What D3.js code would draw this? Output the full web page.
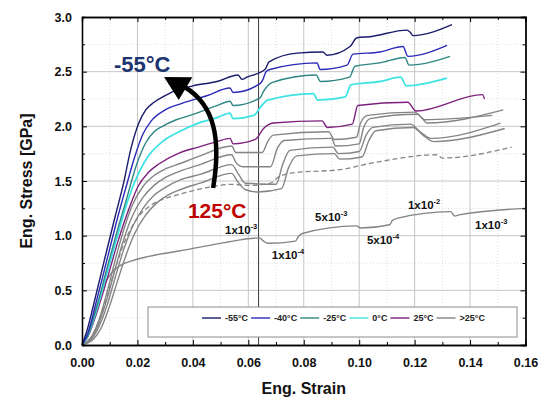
<!DOCTYPE html>
<html>
<head>
<meta charset="utf-8">
<script src="https://cdn.jsdelivr.net/npm/d3@7"></script>
<style>
  body { margin: 0; background: #fff; }
  svg { display: block; font-family: Arial, "Liberation Sans", sans-serif; }
</style>
</head>
<body>
<svg width="550" height="397"></svg>
<script>
// ticks
var strainTicks = [0, 0.02, 0.04, 0.06, 0.08, 0.10, 0.12, 0.14, 0.16];
var strainMinor = [0.01, 0.03, 0.05, 0.07, 0.09, 0.11, 0.13, 0.15];
var stressTicks = [0, 0.5, 1.0, 1.5, 2.0, 2.5, 3.0];
var stressMinor = [0.25, 0.75, 1.25, 1.75, 2.25, 2.75];

// curves [strain, stress GPa]
var curveN55 = [[0,0],[0.002,0.15],[0.004,0.35],[0.008,0.77],[0.012,1.18],[0.015,1.48],[0.0175,1.78],[0.0205,2.03],[0.023,2.15],[0.026,2.22],[0.03,2.28],[0.033,2.32],[0.04,2.37],[0.0487,2.41],[0.0563,2.47],[0.0577,2.43],[0.0595,2.45],[0.066,2.52],[0.0675,2.59],[0.0776,2.67],[0.0869,2.68],[0.0884,2.65],[0.0967,2.73],[0.0992,2.81],[0.1039,2.82],[0.1172,2.88],[0.1184,2.86],[0.1194,2.83],[0.1335,2.93]];
var curveN40 = [[0,0],[0.002,0.1],[0.005,0.38],[0.009,0.78],[0.013,1.18],[0.0165,1.5],[0.019,1.72],[0.022,1.93],[0.025,2.05],[0.03,2.15],[0.036,2.21],[0.045,2.28],[0.0534,2.35],[0.0545,2.31],[0.0642,2.39],[0.0653,2.43],[0.0664,2.5],[0.0678,2.52],[0.0848,2.58],[0.0859,2.52],[0.0956,2.56],[0.0978,2.66],[0.1075,2.68],[0.1158,2.73],[0.1176,2.64],[0.1317,2.74]];
var curveN25 = [[0,0],[0.002,0.08],[0.005,0.32],[0.009,0.7],[0.013,1.07],[0.016,1.33],[0.0197,1.65],[0.023,1.85],[0.026,1.95],[0.029,2.0],[0.034,2.06],[0.039,2.1],[0.0487,2.19],[0.0534,2.23],[0.0545,2.19],[0.0642,2.26],[0.0655,2.32],[0.0685,2.4],[0.0845,2.47],[0.086,2.41],[0.0965,2.45],[0.0985,2.55],[0.1075,2.58],[0.1165,2.63],[0.118,2.56],[0.1328,2.64]];
var curve0 = [[0,0],[0.002,0.08],[0.005,0.3],[0.009,0.66],[0.013,1.02],[0.0165,1.32],[0.0202,1.56],[0.024,1.73],[0.029,1.86],[0.035,1.95],[0.042,2.03],[0.0487,2.08],[0.0534,2.12],[0.0545,2.07],[0.062,2.1],[0.0645,2.18],[0.067,2.24],[0.0835,2.3],[0.085,2.24],[0.095,2.27],[0.097,2.38],[0.1075,2.41],[0.115,2.45],[0.117,2.37],[0.1317,2.44]];
var curve25 = [[0,0],[0.002,0.07],[0.005,0.27],[0.009,0.6],[0.013,0.95],[0.017,1.25],[0.0202,1.45],[0.024,1.58],[0.028,1.66],[0.0354,1.76],[0.042,1.81],[0.0487,1.86],[0.0534,1.89],[0.0545,1.84],[0.0625,1.88],[0.0655,1.98],[0.069,2.03],[0.0866,2.05],[0.0885,1.99],[0.0975,2.02],[0.0995,2.19],[0.1175,2.22],[0.1205,2.14],[0.1445,2.29],[0.1452,2.25]];
var curveG1 = [[0,0],[0.003,0.06],[0.006,0.22],[0.009,0.48],[0.012,0.78],[0.015,1.05],[0.018,1.27],[0.022,1.45],[0.026,1.55],[0.03,1.61],[0.0354,1.66],[0.0426,1.73],[0.054,1.82],[0.0555,1.76],[0.065,1.76],[0.067,1.86],[0.069,1.92],[0.089,1.95],[0.091,1.88],[0.099,1.9],[0.1005,2.03],[0.103,2.1],[0.12,2.13],[0.1225,2.08],[0.1245,2.03],[0.152,2.15]];
var curveG2 = [[0,0],[0.003,0.05],[0.006,0.19],[0.009,0.42],[0.012,0.7],[0.015,0.96],[0.018,1.17],[0.022,1.35],[0.026,1.46],[0.03,1.53],[0.0354,1.59],[0.0426,1.65],[0.054,1.74],[0.0555,1.67],[0.058,1.63],[0.068,1.63],[0.0705,1.8],[0.073,1.87],[0.09,1.89],[0.0915,1.82],[0.1,1.84],[0.1015,1.98],[0.104,2.07],[0.121,2.11],[0.1235,2.06],[0.148,2.1]];
var curveG3 = [[0,0],[0.003,0.04],[0.006,0.16],[0.009,0.36],[0.012,0.62],[0.015,0.87],[0.018,1.07],[0.022,1.25],[0.026,1.37],[0.03,1.44],[0.0354,1.51],[0.0426,1.56],[0.054,1.65],[0.0565,1.56],[0.059,1.48],[0.07,1.47],[0.0725,1.66],[0.075,1.78],[0.0905,1.81],[0.0925,1.75],[0.1,1.77],[0.1025,1.92],[0.105,1.99],[0.1185,2.02],[0.122,1.95],[0.126,1.89],[0.151,2.03]];
var curveG4 = [[0,0],[0.004,0.05],[0.007,0.16],[0.01,0.36],[0.013,0.6],[0.016,0.83],[0.019,1.02],[0.023,1.19],[0.027,1.3],[0.031,1.37],[0.0354,1.42],[0.0426,1.48],[0.054,1.57],[0.056,1.5],[0.059,1.42],[0.0635,1.4],[0.072,1.43],[0.0745,1.62],[0.0775,1.73],[0.091,1.75],[0.093,1.7],[0.101,1.72],[0.1035,1.87],[0.106,1.96],[0.1195,1.99],[0.123,1.92],[0.127,1.86],[0.1525,1.98]];
var curveDash = [[0,0],[0.004,0.1],[0.008,0.36],[0.012,0.7],[0.016,0.98],[0.02,1.16],[0.025,1.28],[0.03,1.34],[0.0354,1.38],[0.045,1.44],[0.054,1.47],[0.06,1.46],[0.068,1.48],[0.0705,1.53],[0.075,1.57],[0.095,1.61],[0.1,1.64],[0.108,1.68],[0.128,1.74],[0.13,1.71],[0.155,1.81]];
var curve125 = [[0,0],[0.002,0.1],[0.005,0.33],[0.008,0.55],[0.011,0.67],[0.014,0.73],[0.018,0.77],[0.024,0.81],[0.035,0.86],[0.05,0.93],[0.064,0.98],[0.0655,0.95],[0.067,0.93],[0.077,0.95],[0.078,0.99],[0.0795,1.02],[0.099,1.09],[0.1005,1.07],[0.111,1.1],[0.112,1.14],[0.114,1.16],[0.133,1.22],[0.1345,1.18],[0.136,1.19],[0.16,1.25]];

var legendLabels = ["-55°C", "-40°C", "-25°C", "0°C", "25°C", ">25°C"];
var legendColors = ["#1b1b6b", "#2b2bb8", "#2e8683", "#3fe3e3", "#7d1f7d", "#858585"];

var rateBase = ["1x10", "1x10", "5x10", "5x10", "1x10", "1x10"];
var rateExp = ["-3", "-4", "-3", "-4", "-2", "-3"];
var ratePos = [[0.0516, 1.016], [0.0685, 0.787], [0.0841, 1.134], [0.1028, 0.924], [0.1176, 1.244], [0.1418, 1.061]];

var markStrain = 0.0637;

var svg = d3.select("svg"),
  margin = {top: 17, right: 24.5, bottom: 52, left: 82},
  width = +svg.attr("width") - margin.left - margin.right,
  height = +svg.attr("height") - margin.top - margin.bottom,
  g = svg.append("g").attr("transform", "translate(" + margin.left + "," + margin.top + ")");

var x = d3.scaleLinear().domain([0, 0.16]).range([0, width]);
var y = d3.scaleLinear().domain([0, 3]).range([height, 0]);

// grid
var grid = g.append("g");
grid.selectAll(".xminor").data(strainMinor).enter().append("line")
  .attr("x1", x).attr("x2", x).attr("y1", 0).attr("y2", height)
  .attr("stroke", "#d4d4d4").attr("stroke-width", 0.8).attr("stroke-dasharray", "1,2");
grid.selectAll(".yminor").data(stressMinor).enter().append("line")
  .attr("x1", 0).attr("x2", width).attr("y1", y).attr("y2", y)
  .attr("stroke", "#d4d4d4").attr("stroke-width", 0.8).attr("stroke-dasharray", "1,2");
grid.selectAll(".xmajor").data(strainTicks.slice(1, -1)).enter().append("line")
  .attr("x1", x).attr("x2", x).attr("y1", 0).attr("y2", height)
  .attr("stroke", "#c6c6c6").attr("stroke-width", 1);
grid.selectAll(".ymajor").data(stressTicks.slice(1, -1)).enter().append("line")
  .attr("x1", 0).attr("x2", width).attr("y1", y).attr("y2", y)
  .attr("stroke", "#c6c6c6").attr("stroke-width", 1);

// vertical marker
g.append("line")
  .attr("x1", x(markStrain)).attr("x2", x(markStrain))
  .attr("y1", 0).attr("y2", height)
  .attr("stroke", "#3a3a3a").attr("stroke-width", 1);

// curves
var line = d3.line()
  .x(function(d) { return x(d[0]); })
  .y(function(d) { return y(d[1]); })
  .curve(d3.curveMonotoneX);

var grayCurves = [curveG1, curveG2, curveG3, curveG4, curve125];
g.append("g").selectAll("path").data(grayCurves).enter().append("path")
  .attr("d", line).attr("fill", "none")
  .attr("stroke", "#858585").attr("stroke-width", 1.4);

g.append("path").attr("d", line(curveDash)).attr("fill", "none")
  .attr("stroke", "#858585").attr("stroke-width", 1.3).attr("stroke-dasharray", "5,3");

var colorCurves = [curve25, curve0, curveN25, curveN40, curveN55];
var colorOf = [legendColors[4], legendColors[3], legendColors[2], legendColors[1], legendColors[0]];
g.append("g").selectAll("path").data(colorCurves).enter().append("path")
  .attr("d", line).attr("fill", "none")
  .attr("stroke", function(d, i) { return colorOf[i]; })
  .attr("stroke-width", function(d, i) { return i == 1 ? 1.8 : 1.4; });

// axes
function styleAxis(sel) {
  sel.select(".domain").attr("stroke", "#000").attr("stroke-width", 1.3);
  sel.selectAll(".tick line").attr("stroke", "#000").attr("stroke-width", 1);
  sel.selectAll("text").attr("font-size", 12.5).attr("font-weight", "bold")
    .attr("font-family", "Arial, 'Liberation Sans', sans-serif").attr("fill", "#111");
}

g.append("g").attr("transform", "translate(0," + height + ")")
  .call(d3.axisBottom(x).tickValues(strainMinor).tickSize(-3).tickFormat(""))
  .call(styleAxis);
g.append("g").attr("transform", "translate(0," + height + ")")
  .call(d3.axisBottom(x).tickValues(strainTicks).tickSizeInner(-5).tickSizeOuter(0)
    .tickPadding(13).tickFormat(d3.format(".2f")))
  .call(styleAxis);
g.append("g")
  .call(d3.axisTop(x).tickValues(strainMinor).tickSize(-3).tickFormat(""))
  .call(styleAxis);
g.append("g")
  .call(d3.axisTop(x).tickValues(strainTicks).tickSize(-5).tickFormat(""))
  .call(styleAxis);
g.append("g")
  .call(d3.axisLeft(y).tickValues(stressMinor).tickSize(-3).tickFormat(""))
  .call(styleAxis);
g.append("g")
  .call(d3.axisLeft(y).tickValues(stressTicks).tickSizeInner(-5).tickSizeOuter(0)
    .tickPadding(10).tickFormat(d3.format(".1f")))
  .call(styleAxis);
g.append("g").attr("transform", "translate(" + width + ",0)")
  .call(d3.axisRight(y).tickValues(stressMinor).tickSize(-3).tickFormat(""))
  .call(styleAxis);
g.append("g").attr("transform", "translate(" + width + ",0)")
  .call(d3.axisRight(y).tickValues(stressTicks).tickSize(-5).tickFormat(""))
  .call(styleAxis);

// axis titles
svg.append("text")
  .attr("x", margin.left + width / 2).attr("y", 394)
  .attr("text-anchor", "middle").attr("font-size", 16).attr("font-weight", "bold")
  .attr("fill", "#111").text("Eng. Strain");
svg.append("text")
  .attr("transform", "translate(32," + (margin.top + height / 2) + ") rotate(-90)")
  .attr("text-anchor", "middle").attr("font-size", 16).attr("font-weight", "bold")
  .attr("fill", "#111").text("Eng. Stress [GPa]");

// strain rate labels
var rates = g.append("g").attr("font-size", 11.5).attr("font-weight", "bold").attr("fill", "#111");
rates.selectAll("text").data(rateBase).enter().append("text")
  .attr("x", function(d, i) { return x(ratePos[i][0]); })
  .attr("y", function(d, i) { return y(ratePos[i][1]); })
  .each(function(d, i) {
    var t = d3.select(this);
    t.append("tspan").text(d);
    t.append("tspan").attr("dy", -5).attr("font-size", 7.5).text(rateExp[i]);
  });

// temperature arrow
var arrowPath = d3.path();
arrowPath.moveTo(x(0.0473), y(1.436));
arrowPath.bezierCurveTo(x(0.0502), y(1.875), x(0.048), y(2.195), x(0.0370), y(2.36));
g.append("path").attr("d", arrowPath.toString())
  .attr("fill", "none").attr("stroke", "#000").attr("stroke-width", 4.5);
g.append("path")
  .attr("d", "M" + x(0.0296) + "," + y(2.452) + "L" + x(0.0398) + "," + y(2.45) +
    "L" + x(0.0349) + "," + y(2.24) + "Z")
  .attr("fill", "#000");

g.append("text")
  .attr("x", x(0.0115)).attr("y", y(2.498))
  .attr("font-size", 22).attr("font-weight", "bold").attr("fill", "#1c3570")
  .text("-55°C");
g.append("text")
  .attr("x", x(0.0382)).attr("y", y(1.162))
  .attr("font-size", 21).attr("font-weight", "bold").attr("fill", "#c00000")
  .text("125°C");

// legend
var legend = g.append("g");
legend.append("rect")
  .attr("x", 66).attr("y", 290).attr("width", 369).attr("height", 30)
  .attr("fill", "#fff").attr("stroke", "#8c8c8c").attr("stroke-width", 1);
var lx = 120;
legendLabels.forEach(function(lab, i) {
  legend.append("line")
    .attr("x1", lx).attr("x2", lx + 19).attr("y1", 301).attr("y2", 301)
    .attr("stroke", legendColors[i]).attr("stroke-width", 1.4);
  var t = legend.append("text")
    .attr("x", lx + 23).attr("y", 304.2)
    .attr("font-size", 9).attr("font-weight", "bold").attr("fill", "#222")
    .text(lab);
  lx = lx + 23 + t.node().getComputedTextLength() + 3;
});
</script>
</body>
</html>
